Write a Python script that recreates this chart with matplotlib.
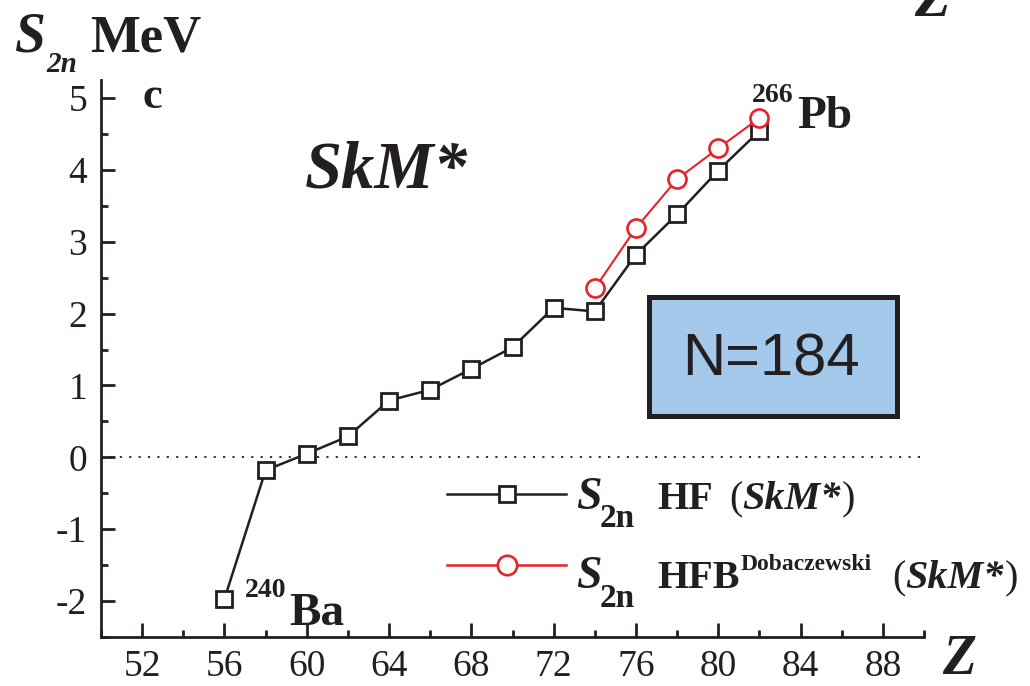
import matplotlib
matplotlib.use('Agg')
import matplotlib.pyplot as plt
from matplotlib.lines import Line2D
from matplotlib.patches import Rectangle
from matplotlib.ticker import MultipleLocator

plt.rcParams['font.family'] = ['Liberation Serif', 'DejaVu Serif']

# two-neutron separation energies along N=184
z_hf = [56, 58, 60, 62, 64, 66, 68, 70, 72, 74, 76, 78, 80, 82]
s2n_hf = [-1.97, -0.18, 0.05, 0.29, 0.79, 0.94, 1.23, 1.53, 2.08, 2.03, 2.82, 3.38, 3.99, 4.54]
z_hfb = [74, 76, 78, 80, 82]
s2n_hfb = [2.35, 3.19, 3.87, 4.30, 4.72]

black = '#231f20'
red = '#e8212a'

W, H = 1030, 686
fig = plt.figure(figsize=(W / 100, H / 100), dpi=100)
ax = fig.add_axes([101 / W, 1 - 637 / H, 823 / W, 557 / H])

ax.axhline(0, color=black, lw=1.3, ls=(0, (1.2, 4)), zorder=1)
ax.plot(z_hf, s2n_hf, color=black, lw=1.8, marker='s', ms=12, mew=2.0,
        mfc='white', mec=black, zorder=3)
ax.plot(z_hfb, s2n_hfb, color=red, lw=1.5, marker='o', ms=13, mew=1.9,
        mfc='white', mec=red, zorder=4)

ax.set_xlim(50, 90)
ax.set_ylim(-2.5, 5.25)
ax.xaxis.set_minor_locator(MultipleLocator(2))
ax.yaxis.set_minor_locator(MultipleLocator(0.5))
ax.set_xticks(range(52, 90, 4))
ax.set_yticks(range(-2, 6))
ax.set_yticklabels([str(v) for v in range(-2, 6)])

for s in ['top', 'right']:
    ax.spines[s].set_visible(False)
for s in ['left', 'bottom']:
    ax.spines[s].set_linewidth(2.0)
    ax.spines[s].set_color(black)
ax.tick_params(which='both', direction='in', width=2.0, color=black,
               labelsize=27, labelcolor=black)
ax.tick_params(which='major', length=10)
ax.tick_params(which='minor', length=5)
ax.tick_params(axis='x', pad=9)
ax.tick_params(axis='y', pad=10)

# legend samples only, the texts are set piece by piece below
handles = [Line2D([], [], color=black, lw=1.8, marker='s', ms=12, mew=2.0, mfc='white', mec=black),
           Line2D([], [], color=red, lw=1.8, marker='o', ms=14, mew=1.9, mfc='white', mec=red)]
ax.legend(handles, [' ', ' '], loc='center left', frameon=False, fontsize=26,
          handlelength=3.3, handletextpad=0, borderpad=0, borderaxespad=0,
          labelspacing=1.05, bbox_to_anchor=(447 / W, 1 - 533.5 / H),
          bbox_transform=fig.transFigure)

renderer = fig.canvas.get_renderer()


def put(x, y, s, size, weight='normal', style='normal', **kw):
    return fig.text(x / W, 1 - y / H, s, fontsize=size, fontweight=weight,
                    fontstyle=style, va='baseline', ha='left', color=black, **kw)


def chain(x, y, parts):
    for s, size, weight, style, dy, gap in parts:
        t = put(x + gap, y + dy, s, size, weight, style)
        x = t.get_window_extent(renderer).x1


# axis titles
put(15, 52, 'S', 40, 'bold', 'italic')
put(46, 72, '2n', 21, 'bold', 'italic')
put(90, 52, 'MeV', 38, 'bold')
put(942, 674, 'Z', 40, 'bold', 'italic')
put(914, 16, 'Z', 42, 'bold', 'italic')

put(143, 108, 'c', 32, 'bold')
put(305, 188, 'SkM*', 48, 'bold', 'italic')

# end-point nuclei
put(245, 597, '240', 20, 'bold')
put(289, 625, 'Ba', 34, 'bold')
put(752, 102, '266', 20, 'bold')
put(797, 128, 'Pb', 34, 'bold')

# N=184 box
fig.patches.append(Rectangle((648.5 / W, 1 - 416.5 / H), 248 / W, 119 / H,
                             transform=fig.transFigure, facecolor='#a3c8ea',
                             edgecolor=black, lw=3.6, zorder=5))
fig.text(771 / W, 1 - 375 / H, 'N=184', fontsize=43, family='Liberation Sans',
         ha='center', va='baseline', color=black, zorder=6)

# legend texts
put(576, 509, 'S', 33, 'bold', 'italic')
put(600, 527, '2n', 24, 'bold')
put(657, 509, 'HF', 29, 'bold')
chain(729, 509, [('(', 29, 'normal', 'normal', 0, 0),
                 ('SkM*', 29, 'bold', 'italic', 0, 0),
                 (')', 29, 'normal', 'normal', 0, 1)])

put(576, 588, 'S', 33, 'bold', 'italic')
put(600, 607, '2n', 24, 'bold')
chain(657, 588, [('HFB', 29, 'bold', 'normal', 0, 0),
                 ('Dobaczewski', 17, 'bold', 'normal', -18, 1)])
chain(892, 588, [('(', 29, 'normal', 'normal', 0, 0),
                 ('SkM*', 29, 'bold', 'italic', 0, 0),
                 (')', 29, 'normal', 'normal', 0, 1)])

fig.savefig('out.png', dpi=100)
